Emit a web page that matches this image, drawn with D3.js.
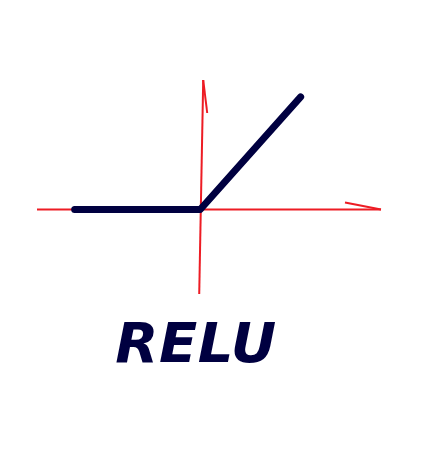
<!DOCTYPE html>
<html>
<head>
<meta charset="utf-8">
<script src="https://cdn.jsdelivr.net/npm/d3@7"></script>
<style>
  body { margin: 0; background: #fff; }
  svg { display: block; }
</style>
</head>
<body>
<div id="chart"></div>
<script>
// relu samples (x, max(0, x))
var xValues = [-5, 0, 4];
var yValues = xValues.map(function(d) { return Math.max(0, d); });
var xDomain = [-6.5, 7.2];
var yDomain = [-3, 4.6];
var title = "RELU";

var width = 443, height = 454;

var svg = d3.select("#chart").append("svg")
    .attr("width", width)
    .attr("height", height);

var x = d3.scaleLinear().domain(xDomain).range([37, 381]);
var y = d3.scaleLinear().domain(yDomain).range([294, 80]);

var red = "#ed1c24";
var navy = "#000040";

// axes, hand drawn look
svg.append("line")
    .attr("x1", x(xDomain[0])).attr("y1", y(0))
    .attr("x2", x(xDomain[1])).attr("y2", y(0))
    .attr("stroke", red).attr("stroke-width", 2);

svg.append("line")
    .attr("x1", x(0) - 1).attr("y1", y(yDomain[0]))
    .attr("x2", x(0) + 3).attr("y2", y(yDomain[1]))
    .attr("stroke", red).attr("stroke-width", 2);

// arrow strokes
svg.append("line")
    .attr("x1", x(xDomain[1]) - 36).attr("y1", y(0) - 7)
    .attr("x2", x(xDomain[1])).attr("y2", y(0))
    .attr("stroke", red).attr("stroke-width", 2);

svg.append("line")
    .attr("x1", x(0) + 3).attr("y1", y(yDomain[1]))
    .attr("x2", x(0) + 7).attr("y2", y(yDomain[1]) + 33)
    .attr("stroke", red).attr("stroke-width", 2);

// relu line
var line = d3.line()
    .x(function(d, i) { return x(xValues[i]); })
    .y(function(d, i) { return y(yValues[i]); });

svg.append("path")
    .datum(xValues)
    .attr("d", line)
    .attr("fill", "none")
    .attr("stroke", navy)
    .attr("stroke-width", 7)
    .attr("stroke-linecap", "round")
    .attr("stroke-linejoin", "round");

svg.append("text")
    .text(title)
    .attr("x", 196)
    .attr("y", 362)
    .attr("text-anchor", "middle")
    .attr("font-family", "DejaVu Sans")
    .attr("font-weight", "bold")
    .attr("font-style", "italic")
    .attr("font-size", 56)
    .attr("letter-spacing", 0.5)
    .attr("fill", navy);
</script>
</body>
</html>
